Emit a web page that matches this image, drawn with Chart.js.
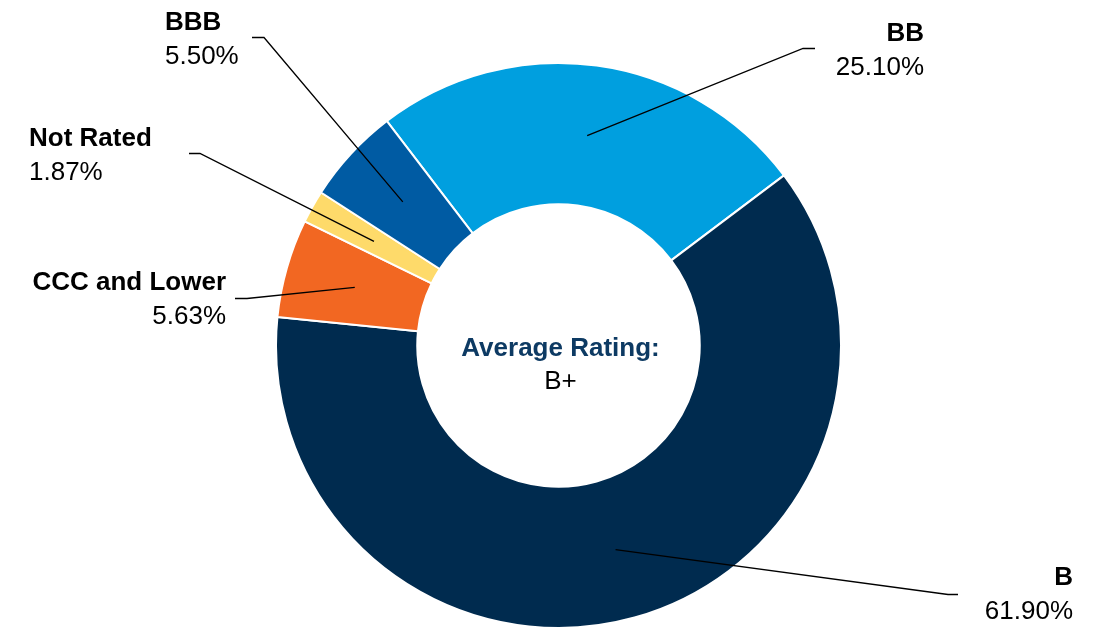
<!DOCTYPE html>
<html><head><meta charset="utf-8">
<script src="https://cdn.jsdelivr.net/npm/chart.js@4"></script>
<style>html,body{margin:0;padding:0;background:#fff;} #wrap{width:1105px;height:629px;position:relative;}</style>
</head><body><div id="wrap"><canvas id="c" width="1105" height="629"></canvas></div>
<script>
const categories = ['BB', 'B', 'CCC and Lower', 'Not Rated', 'BBB'];
const shares = [25.10, 61.90, 5.63, 1.87, 5.50];
const valueLabels = ['25.10%', '61.90%', '5.63%', '1.87%', '5.50%'];
const sliceColors = ['#009FDF', '#002B4F', '#F26722', '#FEDA6A', '#005BA3'];
const centerTitle = 'Average Rating:';
const centerValue = 'B+';

// label placement (layout only)
const labelLayout = [
  {x: 924, align: 'right', y: 41, elbowX: 803, elbowY: 48, endX: 815},
  {x: 1073, align: 'right', y: 585, elbowX: 948, elbowY: 594, endX: 958},
  {x: 226, align: 'right', y: 290, elbowX: 247, elbowY: 298, endX: 235},
  {x: 29, align: 'left', y: 146, elbowX: 200, elbowY: 153, endX: 189},
  {x: 165, align: 'left', y: 30, elbowX: 264, elbowY: 37, endX: 252}
];
const FONT = '"Liberation Sans", Arial, sans-serif';

const labelPlugin = {
  id: 'leaderLabels',
  afterDraw(chart) {
    const ctx = chart.ctx;
    const meta = chart.getDatasetMeta(0);
    ctx.save();
    meta.data.forEach((arc, i) => {
      const p = arc.tooltipPosition();
      const L = labelLayout[i];
      ctx.beginPath();
      ctx.strokeStyle = '#000';
      ctx.lineWidth = 1.3;
      ctx.moveTo(p.x, p.y);
      ctx.lineTo(L.elbowX, L.elbowY + 0.5);
      ctx.lineTo(L.endX, L.elbowY + 0.5);
      ctx.stroke();
      ctx.fillStyle = '#000';
      ctx.textAlign = L.align;
      ctx.textBaseline = 'alphabetic';
      ctx.font = 'bold 26px ' + FONT;
      ctx.fillText(categories[i], L.x, L.y);
      ctx.font = '26px ' + FONT;
      ctx.fillText(valueLabels[i], L.x, L.y + 34);
    });
    const a = meta.data[0];
    ctx.textAlign = 'center';
    ctx.fillStyle = '#0D3A63';
    ctx.font = 'bold 26px ' + FONT;
    ctx.fillText(centerTitle, a.x + 2, a.y + 10);
    ctx.fillStyle = '#000';
    ctx.font = '26px ' + FONT;
    ctx.fillText(centerValue, a.x + 2, a.y + 43);
    ctx.restore();
  }
};

new Chart(document.getElementById('c'), {
  type: 'doughnut',
  data: {
    labels: categories,
    datasets: [{
      data: shares,
      backgroundColor: sliceColors,
      borderColor: '#ffffff',
      borderWidth: 2
    }]
  },
  options: {
    responsive: false,
    devicePixelRatio: 1,
    animation: false,
    events: [],
    rotation: -37.4,
    cutout: '50%',
    layout: {padding: {top: 62, bottom: 0, left: 12, right: 0}},
    plugins: {legend: {display: false}, tooltip: {enabled: false}}
  },
  plugins: [labelPlugin]
});
</script>
</body></html>
